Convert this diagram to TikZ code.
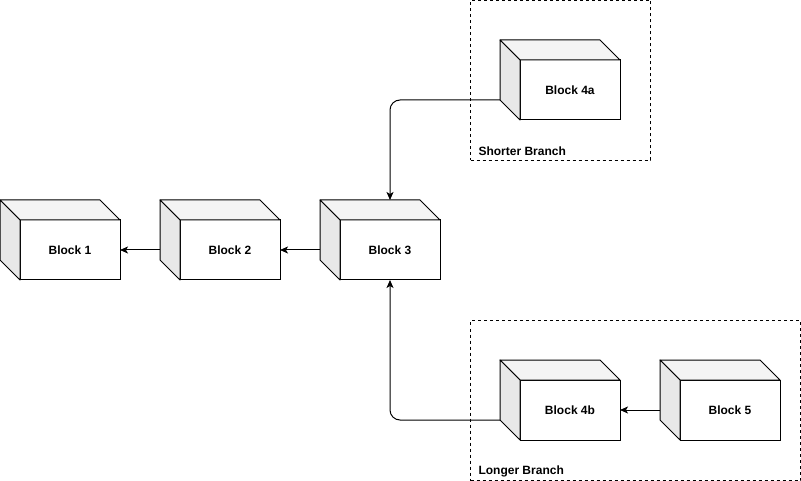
\documentclass[tikz,border=0pt]{standalone}
\usepackage{fontspec}
\setmainfont{Liberation Sans}
\usetikzlibrary{arrows.meta}
\begin{document}
\begin{tikzpicture}[x=1pt,y=-1pt,line width=1pt,
  cube/.style={draw, fill=white, minimum width=100pt, minimum height=60pt, inner sep=0pt, outer sep=0pt, font=\fontsize{12}{14}\selectfont\bfseries},
  topface/.style={draw, fill=gray!9, line join=round},
  sideface/.style={draw, fill=gray!18, line join=round},
  group/.style={draw, dash pattern=on 3pt off 3pt},
  grouplabel/.style={anchor=west, inner sep=0pt, font=\fontsize{12}{14}\selectfont\bfseries},
  conn/.style={-{Stealth[length=8pt,width=7pt,inset=2pt]}, rounded corners=10pt}]
\useasboundingbox (0,0) rectangle (801,481);
% groups
\node[group, minimum width=180pt, minimum height=160pt, inner sep=0pt, anchor=north west] (gs) at (470,0) {};
\node[grouplabel] (gsl) at (478,151) {Shorter Branch};
\node[group, minimum width=330pt, minimum height=160pt, inner sep=0pt, anchor=north west] (gl) at (470,320) {};
\node[grouplabel] (gll) at (478,471) {Longer Branch};
% blocks (front faces)
\node[cube] (b1) at (70,250) {Block 1};
\node[cube] (b2) at (230,250) {Block 2};
\node[cube] (b3) at (390,250) {Block 3};
\node[cube] (b4a) at (570,90) {Block 4a};
\node[cube] (b4b) at (570,410) {Block 4b};
\node[cube] (b5) at (730,410) {Block 5};
\foreach \n in {b1,b2,b3,b4a,b4b,b5}{
  \path[topface] (\n.north west) -- ++(-20,-20) -- ++(100,0) -- (\n.north east) -- cycle;
  \path[sideface] (\n.north west) -- ++(-20,-20) -- ++(0,60) -- (\n.south west) -- cycle;
}
% connectors
\draw[conn] ([xshift=-20pt]b2.west) -- (b1.east);
\draw[conn] ([xshift=-20pt]b3.west) -- (b2.east);
\draw[conn] ([xshift=-20pt,yshift=-10pt]b4a.west) -| ([yshift=20pt]b3.north);
\draw[conn] ([xshift=-20pt,yshift=-10pt]b4b.west) -| (b3.south);
\draw[conn] ([xshift=-20pt]b5.west) -- (b4b.east);
\end{tikzpicture}
\end{document}
